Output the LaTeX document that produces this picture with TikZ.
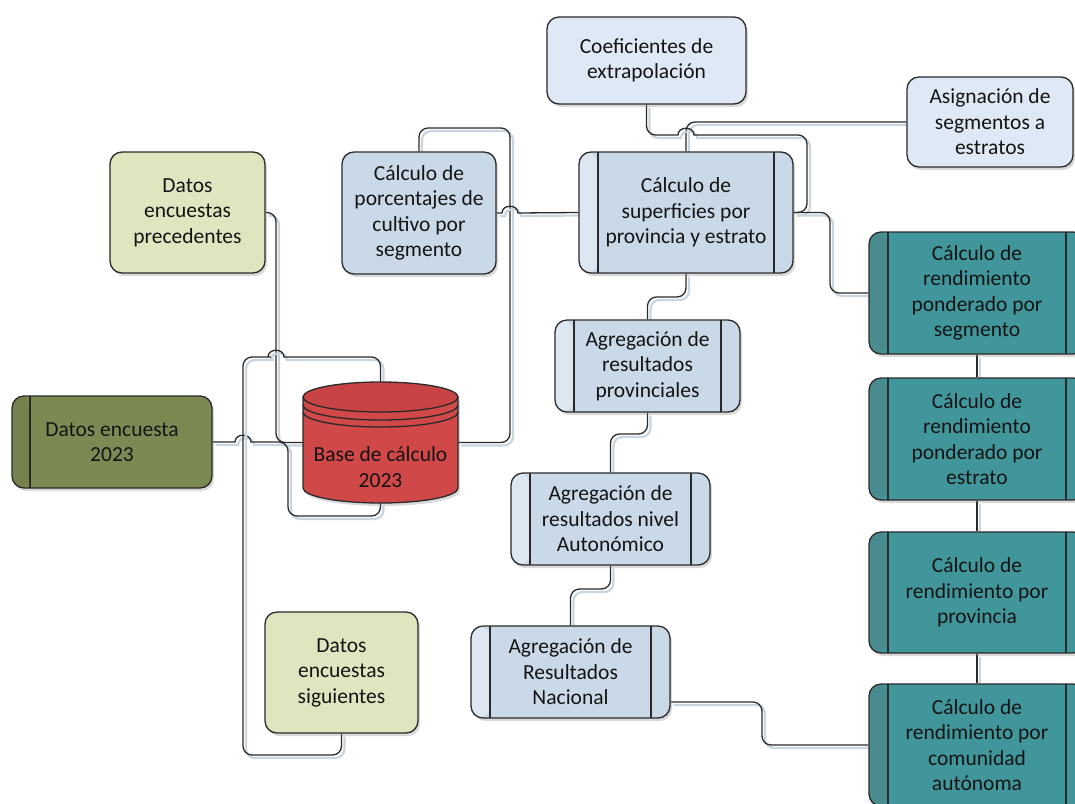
\documentclass[tikz,border=0pt]{standalone}
\usepackage{fontspec}
\setmainfont{Carlito}
\usetikzlibrary{shadows,backgrounds}
\definecolor{lblue}{HTML}{C9D9E7}
\definecolor{lbluestrip}{HTML}{DCE7F1}
\definecolor{xblue}{HTML}{DFE9F5}
\definecolor{lgreen}{HTML}{DDE6BF}
\definecolor{olive}{HTML}{7B8A53}
\definecolor{olivestrip}{HTML}{74834E}
\definecolor{cylred}{HTML}{D04848}
\definecolor{cyltop}{HTML}{C84343}
\definecolor{teal2}{HTML}{40969B}
\definecolor{tealstrip}{HTML}{4A8B8F}
\definecolor{edge}{HTML}{2A2A2A}
\definecolor{lshadow}{HTML}{C8D5DE}
\tikzset{
  box/.style={draw=edge, line width=1.3pt, rounded corners=12pt, align=center,
    font=\fontsize{21.5}{25.5}\selectfont, text=black!92, inner sep=0pt,
    drop shadow={shadow xshift=2pt, shadow yshift=-3pt, opacity=0.3, fill=black!50}},
  proc/.style={path picture={
    \fill[#1] (path picture bounding box.north west) rectangle ([xshift=19pt]path picture bounding box.south west);
    \draw[draw=edge,line width=1.3pt] ([xshift=19pt]path picture bounding box.north west) -- ([xshift=19pt]path picture bounding box.south west);
    \draw[draw=edge,line width=1.3pt] ([xshift=-19pt]path picture bounding box.north east) -- ([xshift=-19pt]path picture bounding box.south east);}},
  procL/.style={path picture={
    \fill[#1] (path picture bounding box.north west) rectangle ([xshift=18pt]path picture bounding box.south west);
    \draw[draw=edge,line width=1.3pt] ([xshift=18pt]path picture bounding box.north west) -- ([xshift=18pt]path picture bounding box.south west);}},
  conn/.style={draw=edge, line width=1.3pt, rounded corners=9pt,
    preaction={draw=lshadow, line width=2.2pt, transform canvas={shift={(3pt,-3pt)}}}},
  cylline/.style={draw=edge, line width=1.3pt}
}
\begin{document}
\begin{tikzpicture}[x=1pt,y=-1pt]
\useasboundingbox (0,0) rectangle (1075,803);
\clip (0,0) rectangle (1075,803);

% nodes
\node[box, fill=lgreen, minimum width=155pt, minimum height=121pt] (prec) at (187.5,212.5) {Datos\\encuestas\\precedentes};
\node[box, fill=lblue, minimum width=154pt, minimum height=122pt] (porc) at (419,213) {Cálculo de\\porcentajes de\\cultivo por\\segmento};
\node[box, fill=xblue, minimum width=199pt, minimum height=87pt] (coef) at (646.5,60.5) {Coeficientes de\\extrapolación};
\node[box, fill=xblue, minimum width=166pt, minimum height=90pt] (asig) at (990,122) {Asignación de\\segmentos a\\estratos};
\node[box, fill=lblue, proc=lbluestrip, minimum width=214pt, minimum height=121pt] (sup) at (686,212.5) {Cálculo de\\superficies por\\provincia y estrato};
\node[box, fill=lblue, proc=lbluestrip, minimum width=185pt, minimum height=92pt] (prov) at (647.5,366) {Agregación de\\resultados\\provinciales};
\node[box, fill=lblue, proc=lbluestrip, minimum width=199pt, minimum height=92pt] (auto) at (610.5,519) {Agregación de\\resultados nivel\\Autonómico};
\node[box, fill=lblue, proc=lbluestrip, minimum width=199pt, minimum height=92pt] (nac) at (570.5,672) {Agregación de\\Resultados\\Nacional};
\node[box, fill=olive, procL=olivestrip, minimum width=200pt, minimum height=92pt] (enc23) at (112,442) {Datos encuesta\\2023};
\node[box, fill=lgreen, minimum width=153pt, minimum height=121pt] (sig) at (341.5,672.5) {Datos\\encuestas\\siguientes};
\node[box, fill=teal2, proc=tealstrip, minimum width=216pt, minimum height=122pt] (ren1) at (977,293) {Cálculo de\\rendimiento\\ponderado por\\segmento};
\node[box, fill=teal2, proc=tealstrip, minimum width=216pt, minimum height=122pt] (ren2) at (977,439) {Cálculo de\\rendimiento\\ponderado por\\estrato};
\node[box, fill=teal2, proc=tealstrip, minimum width=216pt, minimum height=121pt] (ren3) at (977,592.5) {Cálculo de\\rendimiento por\\provincia};
\node[box, fill=teal2, proc=tealstrip, minimum width=216pt, minimum height=122pt] (ren4) at (977,745) {Cálculo de\\rendimiento por\\comunidad\\autónoma};

% cylinder
\fill[black!50, opacity=0.3] (305,400) -- (305,491) arc[start angle=180,end angle=360,x radius=77.5pt,y radius=15pt] -- (460,400) -- cycle;
\filldraw[cylline, fill=cylred] (303,397) -- (303,488) arc[start angle=180,end angle=360,x radius=77.5pt,y radius=15pt] -- (458,397) -- cycle;
\filldraw[cylline, fill=cyltop] (380.5,397) ellipse[x radius=77.5pt, y radius=15pt];
\draw[cylline] (303,405) arc[start angle=180,end angle=360,x radius=77.5pt,y radius=15pt];
\draw[cylline] (303,412) arc[start angle=180,end angle=360,x radius=77.5pt,y radius=15pt];
\node[minimum width=155pt, minimum height=121pt, inner sep=0pt] (cyl) at (380.5,442.5) {};
\node[align=center, font=\fontsize{21.5}{25.5}\selectfont, text=black!92, inner sep=0pt] (cyltext) at (380.5,467) {Base de cálculo\\2023};

% connectors
\begin{scope}[on background layer]
\draw[conn] (prec.east) -- (276,212.5) -- (276,442.5) -- (cyl.west);
\draw[conn] (enc23.east) [sharp corners] -- (235,442) .. controls (235,433) and (251,433) .. (251,442) -- (262,442) [rounded corners=9pt] -- (288,442) -- (288,516) -- (380.5,516) -- (cyl.south);
\draw[conn] (sig.south) -- (341.5,755) -- (243,755) -- (243,357) -- (262,357) [sharp corners] -- (268,357) .. controls (268,348) and (284,348) .. (284,357) -- (300,357) [rounded corners=9pt] -- (380.5,357) -- (cyl.north);
\draw[conn] (cyl.east) -- (510,442.5) -- (510,128) -- (419,128) -- (porc.north);
\draw[conn] (porc.east) [sharp corners] -- (502,213) .. controls (502,204) and (518,204) .. (518,213) -- (sup.west);
\draw[conn] (asig.west) -- (686,122) -- (sup.north);
\draw[conn] (coef.south) -- (646.5,135) -- (665,135) [sharp corners] -- (678,135) .. controls (678,126) and (694,126) .. (694,135) -- (720,135) [rounded corners=9pt] -- (807,135) -- (807,212.5) -- (sup.east);
\draw[conn] (sup.east) -- (830,212.5) -- (830,293) -- (ren1.west);
\draw[conn] (sup.south) -- (686,297) -- (647.5,297) -- (prov.north);
\draw[conn] (prov.south) -- (647.5,434) -- (610.5,434) -- (auto.north);
\draw[conn] (auto.south) -- (610.5,589) -- (570.5,589) -- (nac.north);
\draw[conn] ([yshift=-30pt]nac.east) -- (762,702) -- (762,745) -- (ren4.west);
\draw[conn] (ren1.south) -- (ren2.north);
\draw[conn] (ren2.south) -- (ren3.north);
\draw[conn] (ren3.south) -- (ren4.north);
\end{scope}
\end{tikzpicture}
\end{document}
